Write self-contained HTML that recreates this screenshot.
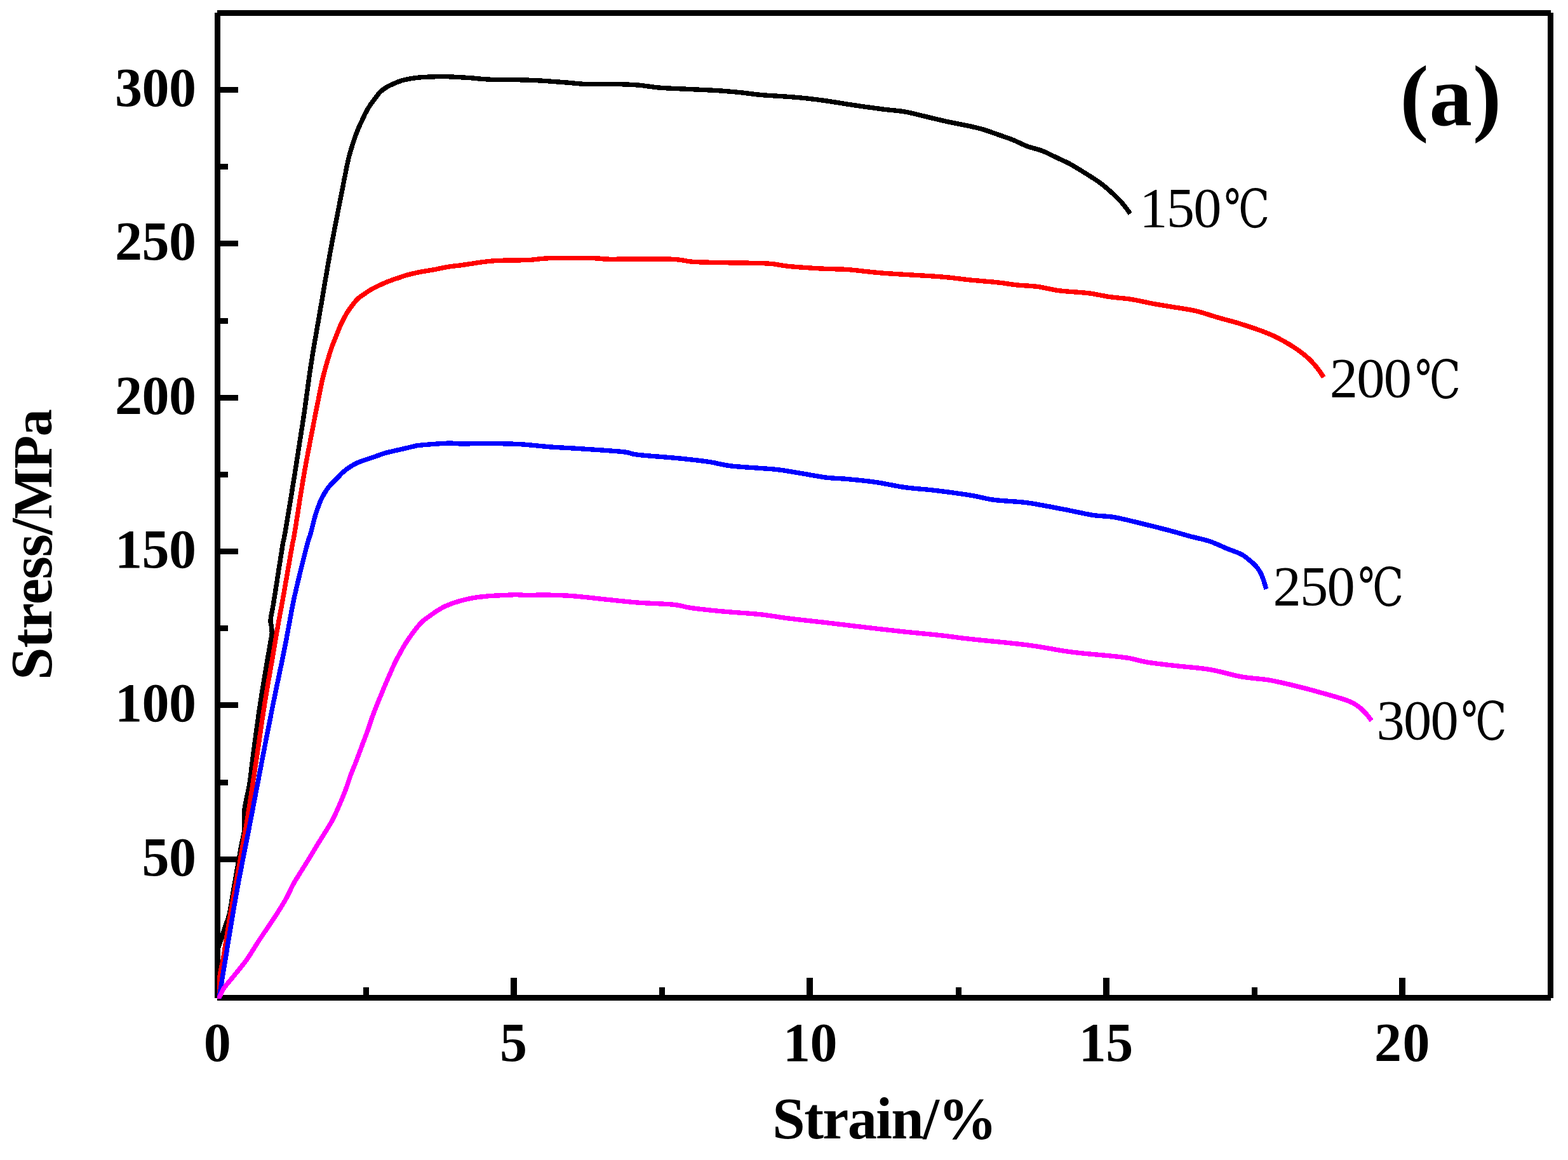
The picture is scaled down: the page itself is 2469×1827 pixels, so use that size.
<!DOCTYPE html>
<html lang="en"><head><meta charset="utf-8"><title>Stress-strain curves</title>
<style>
html,body{margin:0;padding:0;background:#fff}
body{width:2469px;height:1827px;overflow:hidden}
svg{display:block}
text{font-family:"Liberation Serif","DejaVu Serif","Noto Serif CJK SC",serif;white-space:pre}
.b{font-weight:700}
.r{font-weight:400}
.c{font-family:"DejaVu Serif","Liberation Serif","Noto Serif CJK SC",serif}
</style></head>
<body>
<svg xmlns="http://www.w3.org/2000/svg" width="2469" height="1827" viewBox="0 0 2469 1827">
<rect width="2469" height="1827" fill="#fff"/>
<g fill="#000" shape-rendering="crispEdges"><rect x="338" y="20" width="9" height="1552"/><rect x="342" y="16" width="2100" height="9"/><rect x="2437" y="20" width="9" height="1552"/><rect x="342" y="1567" width="2100" height="9"/><rect x="347" y="1470" width="12" height="9"/><rect x="347" y="1349" width="28" height="9"/><rect x="347" y="1228" width="12" height="9"/><rect x="347" y="1106" width="28" height="9"/><rect x="347" y="985" width="12" height="9"/><rect x="347" y="864" width="28" height="9"/><rect x="347" y="743" width="12" height="9"/><rect x="347" y="622" width="28" height="9"/><rect x="347" y="501" width="12" height="9"/><rect x="347" y="379" width="28" height="9"/><rect x="347" y="258" width="12" height="9"/><rect x="347" y="137" width="28" height="9"/><rect x="572" y="1555" width="9" height="12"/><rect x="804" y="1540" width="10" height="27"/><rect x="1038" y="1555" width="9" height="12"/><rect x="1270" y="1540" width="10" height="27"/><rect x="1505" y="1555" width="9" height="12"/><rect x="1737" y="1540" width="10" height="27"/><rect x="1971" y="1555" width="9" height="12"/><rect x="2203" y="1540" width="10" height="27"/></g>
<defs><clipPath id="plot"><rect x="342" y="20" width="2100" height="1553"/></clipPath></defs>
<g fill="none" stroke-width="7.4" stroke-linejoin="round" stroke-linecap="butt" shape-rendering="crispEdges" clip-path="url(#plot)"><path d="M338.0,1509.5C338.8,1507.2 341.0,1500.5 342.5,1496.0C344.0,1491.5 345.1,1488.3 347.0,1482.5C348.9,1476.7 351.7,1468.1 354.0,1461.0C356.3,1453.9 358.9,1448.5 361.0,1440.0C363.1,1431.5 364.6,1420.0 366.3,1410.0C368.0,1400.0 369.7,1389.6 371.4,1380.0C373.1,1370.4 374.9,1360.7 376.3,1352.5C377.8,1344.3 378.7,1338.0 380.1,1330.7C381.5,1323.5 383.8,1315.5 384.6,1309.0C385.4,1302.5 384.8,1297.5 384.8,1292.0C384.9,1286.5 384.6,1280.7 384.9,1276.3C385.2,1271.9 385.2,1272.7 386.6,1265.4C388.0,1258.1 391.4,1243.6 393.2,1232.7C395.0,1221.8 394.5,1220.5 397.2,1200.0C399.9,1179.5 405.0,1140.0 409.5,1110.0C414.0,1080.0 421.6,1036.5 424.4,1020.0C427.1,1003.5 425.4,1014.6 426.0,1010.8C426.6,1007.0 428.0,1001.1 428.2,997.0C428.4,992.9 427.7,989.3 427.3,986.3C426.9,983.3 426.1,981.5 426.0,979.2C425.9,976.9 425.9,976.5 426.5,972.7C427.1,968.9 428.6,961.8 429.6,956.3C430.6,950.8 429.8,956.0 432.3,940.0C434.8,924.0 442.1,876.7 444.8,860.0C447.5,843.3 445.6,858.3 448.7,840.0C451.8,821.7 458.8,780.0 463.6,750.0C468.4,720.0 473.1,690.0 477.6,660.0C482.1,630.0 485.7,600.0 490.4,570.0C495.1,540.0 500.6,510.0 505.7,480.0C510.8,450.0 515.8,420.0 521.3,390.0C526.8,360.0 535.2,318.3 538.7,300.0C542.2,281.7 541.0,287.9 542.6,280.0C544.2,272.1 546.3,260.7 548.2,252.5C550.1,244.3 552.0,238.0 554.2,230.7C556.4,223.4 559.0,215.7 561.6,208.9C564.2,202.1 567.4,195.4 569.9,190.0C572.4,184.6 574.3,180.4 576.5,176.3C578.7,172.2 580.6,169.0 583.0,165.4C585.4,161.8 588.3,158.0 591.0,154.5C593.7,151.0 596.0,147.4 599.0,144.5C602.0,141.6 605.4,139.3 608.9,137.2C612.4,135.1 616.4,133.4 620.0,131.8C623.6,130.2 627.1,128.7 630.7,127.5C634.3,126.3 638.0,125.5 641.6,124.7C645.2,123.9 648.9,123.4 652.5,122.9C656.1,122.4 657.9,122.2 663.4,121.8C668.9,121.4 677.9,121.0 685.2,120.8C692.5,120.6 701.5,120.7 707.0,120.8C712.5,120.9 712.4,121.1 717.9,121.4C723.4,121.7 734.0,122.2 740.0,122.6C746.0,123.0 747.8,123.5 753.9,124.0C760.0,124.5 768.9,125.2 776.6,125.4C784.3,125.6 788.5,125.2 800.0,125.4C811.5,125.6 830.3,126.0 845.4,126.7C860.5,127.5 877.6,128.9 890.8,129.9C904.0,130.9 911.6,132.2 924.8,132.6C938.0,133.0 957.0,132.4 970.2,132.6C983.5,132.8 992.9,133.1 1004.3,134.0C1015.6,134.9 1025.1,137.0 1038.3,138.1C1051.5,139.2 1068.6,139.7 1083.7,140.4C1098.8,141.2 1115.9,141.8 1129.1,142.6C1142.3,143.4 1151.8,144.3 1163.1,145.4C1174.4,146.5 1185.8,148.4 1197.2,149.4C1208.6,150.4 1219.9,150.9 1231.2,151.7C1242.5,152.5 1253.8,153.2 1265.3,154.4C1276.8,155.6 1286.7,156.8 1300.0,158.7C1313.3,160.6 1330.3,163.6 1345.4,165.8C1360.5,168.0 1377.6,170.4 1390.8,172.1C1404.0,173.8 1413.4,174.0 1424.8,176.0C1436.2,178.0 1447.6,181.2 1458.9,183.9C1470.2,186.6 1481.6,189.4 1492.9,191.9C1504.2,194.4 1517.5,196.6 1527.0,198.7C1536.5,200.8 1542.1,202.1 1549.7,204.4C1557.3,206.7 1564.9,209.7 1572.4,212.3C1580.0,215.0 1587.5,217.3 1595.0,220.3C1602.5,223.3 1610.1,227.7 1617.7,230.5C1625.3,233.3 1632.8,234.4 1640.4,237.3C1648.0,240.2 1655.5,244.3 1663.1,247.9C1670.7,251.5 1678.2,254.7 1685.8,258.8C1693.4,262.9 1700.9,267.8 1708.5,272.5C1716.1,277.2 1725.5,283.2 1731.2,287.2C1736.9,291.2 1738.8,293.1 1742.6,296.3C1746.4,299.5 1750.1,302.9 1753.9,306.5C1757.7,310.1 1761.9,314.1 1765.3,317.9C1768.7,321.7 1772.0,326.1 1774.4,329.2C1776.8,332.3 1778.7,335.4 1779.6,336.6" stroke="#000"/><path d="M339.0,1576.0C339.6,1572.8 341.1,1564.8 342.5,1557.0C343.9,1549.2 346.0,1536.8 347.5,1529.0C349.0,1521.2 350.1,1517.3 351.4,1510.0C352.7,1502.7 353.5,1496.7 355.4,1485.0C357.3,1473.3 359.7,1457.5 362.7,1440.0C365.7,1422.5 369.2,1405.0 373.6,1380.0C378.1,1355.0 384.5,1320.0 389.4,1290.0C394.3,1260.0 398.7,1230.0 403.2,1200.0C407.7,1170.0 412.0,1138.3 416.5,1110.0C421.0,1081.7 426.6,1050.8 430.1,1030.0C433.6,1009.2 435.1,1000.0 437.7,985.0C440.3,970.0 442.3,960.8 446.0,940.0C449.7,919.2 456.9,876.7 459.9,860.0C462.9,843.3 460.8,858.3 463.8,840.0C466.9,821.7 473.0,780.0 478.2,750.0C483.4,720.0 491.4,679.6 495.2,660.0C498.9,640.4 498.7,642.5 500.7,632.5C502.7,622.5 504.8,610.2 507.2,599.8C509.6,589.4 512.7,578.6 515.2,570.0C517.7,561.4 519.7,554.7 522.0,548.0C524.3,541.3 526.6,536.1 529.0,530.0C531.4,523.9 533.9,517.2 536.5,511.5C539.1,505.8 542.3,499.9 544.5,496.0C546.7,492.1 547.5,490.9 549.5,488.0C551.5,485.1 554.1,481.4 556.5,478.5C558.9,475.6 560.6,473.1 563.6,470.4C566.6,467.7 570.9,464.9 574.5,462.4C578.1,459.9 581.8,457.5 585.4,455.4C589.0,453.3 592.7,451.6 596.3,449.9C599.9,448.2 603.6,446.5 607.2,445.0C610.8,443.5 614.4,442.1 618.0,440.8C621.6,439.5 625.2,438.4 628.9,437.2C632.6,436.0 634.5,434.9 640.0,433.4C645.5,431.9 654.4,429.8 661.6,428.4C668.8,426.9 676.1,426.0 683.4,424.7C690.7,423.4 697.9,421.5 705.2,420.3C712.5,419.1 719.7,418.6 727.0,417.6C734.3,416.6 743.3,415.1 748.8,414.3C754.3,413.5 755.4,413.3 760.0,412.7C764.6,412.1 769.9,411.3 776.6,410.9C783.3,410.4 790.4,410.2 800.0,410.0C809.6,409.8 823.4,410.0 834.0,409.5C844.6,409.0 846.5,407.2 863.5,406.8C880.5,406.4 920.3,406.6 936.2,406.8C952.1,407.0 938.9,408.0 958.9,408.2C978.9,408.4 1034.6,407.5 1056.5,408.2C1078.4,408.9 1077.3,411.4 1090.5,412.3C1103.7,413.2 1116.2,413.2 1135.9,413.6C1155.6,414.1 1190.7,414.0 1208.5,415.0C1226.3,416.0 1227.3,418.1 1242.6,419.5C1257.8,420.9 1284.8,422.6 1300.0,423.4C1315.2,424.2 1318.9,423.4 1334.0,424.5C1349.1,425.6 1366.2,428.3 1390.8,430.2C1415.4,432.1 1458.9,434.1 1481.6,435.9C1504.3,437.7 1511.9,439.4 1527.0,440.9C1542.1,442.4 1560.2,443.7 1572.4,445.0C1584.6,446.3 1589.7,447.7 1600.0,448.8C1610.3,449.9 1622.7,450.0 1634.0,451.5C1645.3,453.0 1654.8,456.1 1668.1,457.8C1681.3,459.5 1700.3,460.1 1713.5,461.7C1726.7,463.3 1736.2,466.0 1747.5,467.6C1758.8,469.2 1770.2,469.7 1781.6,471.5C1792.9,473.3 1804.2,476.2 1815.6,478.3C1826.9,480.4 1838.3,482.1 1849.7,484.0C1861.1,485.9 1872.4,487.2 1883.7,489.9C1895.0,492.6 1906.4,496.8 1917.7,500.1C1929.0,503.4 1940.5,506.1 1951.8,509.6C1963.1,513.1 1976.3,517.5 1985.8,521.0C1995.2,524.5 2000.9,526.8 2008.5,530.5C2016.1,534.2 2024.8,539.1 2031.2,543.0C2037.6,546.9 2042.2,550.0 2047.1,553.6C2052.0,557.2 2056.5,560.9 2060.7,564.8C2064.9,568.7 2069.1,573.5 2072.1,577.0C2075.1,580.5 2076.8,583.2 2078.9,586.1C2081.0,589.0 2083.5,592.9 2084.4,594.2" stroke="#f00"/><path d="M340.3,1600.0C340.4,1599.3 340.4,1600.2 341.1,1595.7C341.9,1591.2 343.7,1579.7 344.8,1573.0C345.9,1566.3 346.6,1562.1 347.7,1555.4C348.8,1548.7 350.1,1540.3 351.3,1532.7C352.5,1525.1 353.8,1518.0 355.1,1510.0C356.4,1502.0 357.2,1496.7 359.1,1485.0C361.0,1473.3 363.6,1457.5 366.6,1440.0C369.6,1422.5 372.6,1405.0 377.3,1380.0C382.0,1355.0 389.2,1320.0 395.0,1290.0C400.8,1260.0 406.4,1230.0 412.2,1200.0C418.0,1170.0 424.1,1138.3 429.8,1110.0C435.5,1081.7 442.2,1050.8 446.4,1030.0C450.6,1009.2 452.1,1000.0 455.0,985.0C457.9,970.0 458.9,960.8 463.6,940.0C468.3,919.2 478.8,876.7 483.1,860.0C487.4,843.3 487.0,847.9 489.2,840.0C491.4,832.1 493.9,820.7 496.3,812.5C498.8,804.3 501.7,796.2 503.9,790.7C506.1,785.2 507.3,783.4 509.3,779.8C511.3,776.2 513.9,771.9 516.1,768.9C518.3,765.9 520.4,763.8 522.5,761.5C524.6,759.2 526.0,758.2 528.9,755.3C531.8,752.3 536.4,747.1 540.0,743.8C543.6,740.5 547.1,738.0 550.7,735.6C554.3,733.2 558.0,731.1 561.6,729.4C565.2,727.7 568.9,726.5 572.5,725.2C576.1,723.9 579.8,722.7 583.4,721.5C587.0,720.3 590.7,719.1 594.3,717.8C597.9,716.5 601.6,715.0 605.2,713.9C608.8,712.8 612.5,712.1 616.1,711.2C619.7,710.3 623.4,709.5 627.0,708.7C630.6,707.9 634.3,707.1 637.9,706.2C641.5,705.4 645.1,704.4 648.8,703.6C652.5,702.8 653.8,702.1 660.0,701.4C666.2,700.7 677.7,699.8 685.8,699.2C693.9,698.7 700.9,698.1 708.5,698.1C716.1,698.1 723.6,699.2 731.2,699.2C738.8,699.2 742.4,698.3 753.9,698.3C765.4,698.3 788.5,698.7 800.0,699.0C811.5,699.3 811.4,699.1 822.7,699.9C834.1,700.7 853.0,702.9 868.1,704.0C883.2,705.1 894.6,705.4 913.5,706.7C932.4,708.0 966.5,710.1 981.6,711.7C996.7,713.3 989.2,714.5 1004.3,716.3C1019.4,718.0 1053.5,720.3 1072.4,722.2C1091.3,724.1 1104.6,725.6 1117.8,727.6C1131.0,729.6 1134.8,732.1 1151.8,734.0C1168.8,735.9 1202.9,737.5 1219.9,739.2C1236.9,740.9 1240.6,742.1 1253.9,744.2C1267.2,746.3 1286.7,750.3 1300.0,752.0C1313.3,753.7 1320.8,753.2 1334.0,754.5C1347.2,755.8 1364.3,757.3 1379.4,759.5C1394.5,761.7 1409.7,765.5 1424.8,767.6C1439.9,769.7 1453.2,770.2 1470.2,772.2C1487.2,774.2 1511.1,777.4 1527.0,779.9C1542.9,782.4 1550.4,785.4 1565.5,787.4C1580.6,789.4 1599.5,789.4 1617.7,791.9C1635.9,794.4 1657.5,798.9 1674.5,802.1C1691.5,805.3 1706.7,809.1 1719.9,811.2C1733.1,813.3 1741.3,812.5 1753.9,814.6C1766.5,816.7 1780.9,820.5 1795.4,824.0C1809.9,827.5 1827.6,831.9 1840.8,835.4C1854.0,838.9 1864.2,842.1 1874.8,844.9C1885.4,847.7 1894.8,849.2 1904.3,852.4C1913.8,855.5 1923.3,860.4 1931.6,863.8C1939.9,867.2 1948.6,870.0 1954.3,872.8C1960.0,875.6 1961.8,877.8 1965.6,880.8C1969.4,883.8 1974.0,887.8 1977.0,891.0C1980.0,894.2 1981.9,896.9 1983.8,900.1C1985.7,903.3 1987.0,906.9 1988.3,910.3C1989.6,913.7 1990.8,917.5 1991.7,920.5C1992.7,923.5 1993.6,926.8 1994.0,928.0" stroke="#00f"/><path d="M341.0,1584.0C341.5,1582.2 343.2,1575.8 344.2,1573.0C345.2,1570.2 345.7,1569.9 347.2,1567.0C348.7,1564.1 349.2,1561.1 353.3,1555.4C357.4,1549.7 365.8,1540.3 371.8,1532.7C377.9,1525.1 384.0,1518.0 389.6,1510.0C395.2,1502.0 397.8,1496.7 405.4,1485.0C413.0,1473.3 428.1,1451.4 435.5,1440.0C442.9,1428.6 445.4,1424.4 449.8,1416.6C454.2,1408.8 458.3,1399.1 461.6,1393.0C464.9,1386.9 465.2,1386.8 469.4,1380.0C473.5,1373.2 481.5,1360.7 486.5,1352.5C491.5,1344.3 495.2,1338.0 499.6,1330.7C504.1,1323.4 509.1,1315.7 513.2,1308.9C517.3,1302.1 520.7,1297.2 524.4,1290.0C528.1,1282.8 532.2,1273.1 535.5,1265.4C538.8,1257.7 541.6,1250.9 544.3,1243.6C547.0,1236.3 549.1,1229.1 551.8,1221.8C554.5,1214.5 557.4,1208.2 560.5,1200.0C563.6,1191.8 567.6,1180.7 570.7,1172.5C573.8,1164.3 576.3,1158.0 578.9,1150.7C581.5,1143.4 583.8,1135.7 586.3,1128.9C588.8,1122.1 590.7,1117.2 593.6,1110.0C596.5,1102.8 600.5,1093.1 603.7,1085.4C606.9,1077.7 609.8,1070.9 613.0,1063.6C616.2,1056.3 620.3,1047.0 622.8,1041.8C625.3,1036.6 625.8,1036.1 627.8,1032.5C629.8,1028.9 632.5,1023.6 634.6,1020.0C636.7,1016.4 638.1,1014.1 640.3,1010.7C642.5,1007.3 645.3,1003.4 647.9,999.8C650.5,996.2 653.2,992.4 656.1,988.9C659.0,985.4 662.0,981.7 665.4,978.6C668.8,975.5 672.7,973.0 676.3,970.4C679.9,967.8 683.6,965.1 687.2,962.8C690.8,960.4 694.4,958.2 698.0,956.3C701.6,954.4 705.2,953.0 708.9,951.6C712.6,950.2 716.4,948.9 720.0,947.8C723.6,946.7 727.1,945.7 730.7,944.8C734.3,943.9 738.0,943.0 741.6,942.3C745.2,941.6 748.9,941.1 752.5,940.6C756.1,940.1 759.8,939.8 763.4,939.4C767.0,939.0 768.8,938.7 774.3,938.4C779.8,938.1 789.8,937.7 796.1,937.4C802.5,937.1 807.0,936.7 812.4,936.7C817.8,936.7 820.6,937.3 828.8,937.4C836.9,937.5 849.1,936.9 861.3,937.1C873.5,937.3 885.8,937.5 902.1,938.7C918.4,940.0 941.9,942.9 958.9,944.6C975.9,946.3 987.3,947.8 1004.3,949.1C1021.3,950.4 1047.0,950.9 1061.0,952.3C1075.0,953.7 1075.0,955.7 1088.2,957.5C1101.4,959.3 1122.2,961.5 1140.4,963.2C1158.6,964.9 1180.2,965.9 1197.2,967.7C1214.2,969.5 1225.5,972.0 1242.6,974.1C1259.7,976.2 1282.9,978.6 1300.0,980.6C1317.1,982.6 1326.5,983.8 1345.4,986.0C1364.3,988.2 1390.8,991.4 1413.5,993.9C1436.2,996.4 1462.7,998.6 1481.6,1000.7C1500.5,1002.8 1504.3,1003.9 1527.0,1006.4C1549.7,1008.9 1591.2,1012.5 1617.7,1015.9C1644.2,1019.3 1663.1,1023.8 1685.8,1026.8C1708.5,1029.8 1738.3,1031.9 1753.9,1033.6C1769.5,1035.3 1770.7,1035.3 1779.5,1036.9C1788.3,1038.5 1794.6,1041.1 1806.7,1043.1C1818.8,1045.1 1835.8,1046.8 1852.1,1048.7C1868.4,1050.6 1887.3,1051.6 1904.3,1054.4C1921.3,1057.2 1938.4,1063.0 1954.3,1065.8C1970.2,1068.6 1984.6,1068.8 1999.7,1071.4C2014.8,1074.0 2031.9,1078.4 2045.1,1081.6C2058.3,1084.8 2067.8,1087.5 2079.1,1090.7C2090.4,1093.9 2104.4,1097.7 2113.1,1100.5C2121.8,1103.3 2126.4,1105.2 2131.3,1107.7C2136.2,1110.2 2139.2,1112.9 2142.6,1115.7C2146.0,1118.5 2148.8,1121.6 2151.7,1124.8C2154.5,1128.0 2158.4,1133.3 2159.7,1135.0" stroke="#f0f"/></g>
<g fill="#000"><text class="b" x="308.5" y="1378.8" font-size="86" text-anchor="end" letter-spacing="-0.5">50</text><text class="b" x="308.5" y="1136.4" font-size="86" text-anchor="end" letter-spacing="-0.5">100</text><text class="b" x="308.5" y="894.1" font-size="86" text-anchor="end" letter-spacing="-0.5">150</text><text class="b" x="308.5" y="651.8" font-size="86" text-anchor="end" letter-spacing="-0.5">200</text><text class="b" x="308.5" y="409.4" font-size="86" text-anchor="end" letter-spacing="-0.5">250</text><text class="b" x="308.5" y="167.1" font-size="86" text-anchor="end" letter-spacing="-0.5">300</text><text class="b" x="342.20" y="1671.3" font-size="86" text-anchor="middle" letter-spacing="0">0</text><text class="b" x="808.44" y="1671.3" font-size="86" text-anchor="middle" letter-spacing="0">5</text><text class="b" x="1275.54" y="1671.3" font-size="86" text-anchor="middle" letter-spacing="-0.5">10</text><text class="b" x="1741.28" y="1671.3" font-size="86" text-anchor="middle" letter-spacing="-0.5">15</text><text class="b" x="2208.43" y="1671.3" font-size="86" text-anchor="middle" letter-spacing="1.5">20</text><text class="b" x="1392.2" y="1793" font-size="92.5" text-anchor="middle" letter-spacing="-1.65">Strain/%</text><text class="b" transform="translate(81.4,1071) rotate(-90)" font-size="92.5" letter-spacing="-1"><tspan>Stress/</tspan><tspan font-size="86" letter-spacing="-1.7">MPa</tspan></text><text class="b" x="2204.5" y="196.8" font-size="135" letter-spacing="1">(a)</text><text class="r" x="1794.3" y="356.8" font-size="88.5" letter-spacing="-1.75">150<tspan class="c" x="1927.4" dy="1.4" font-size="83.7" letter-spacing="0" textLength="71.8" lengthAdjust="spacingAndGlyphs">℃</tspan></text><text class="r" x="2093.8" y="625.2" font-size="88.5" letter-spacing="-1.75">200<tspan class="c" x="2228.3" dy="1.4" font-size="83.7" letter-spacing="0" textLength="71.8" lengthAdjust="spacingAndGlyphs">℃</tspan></text><text class="r" x="2004.4" y="953" font-size="88.5" letter-spacing="-1.75">250<tspan class="c" x="2138.6" dy="1.4" font-size="83.7" letter-spacing="0" textLength="71.8" lengthAdjust="spacingAndGlyphs">℃</tspan></text><text class="r" x="2167.5" y="1163.8" font-size="88.5" letter-spacing="-1.75">300<tspan class="c" x="2300.7" dy="1.4" font-size="83.7" letter-spacing="0" textLength="71.8" lengthAdjust="spacingAndGlyphs">℃</tspan></text></g>
</svg>
</body></html>
